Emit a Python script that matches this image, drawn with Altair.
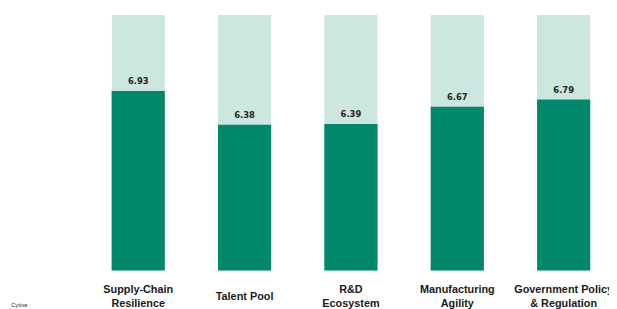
import altair as alt
import pandas as pd

categories = ["Supply-Chain\nResilience", "Talent Pool", "R&D\nEcosystem",
              "Manufacturing\nAgility", "Government Policy\n& Regulation"]
scores = [6.93, 6.38, 6.39, 6.67, 6.79]
max_scores = [10, 10, 10, 10, 10]
value_labels = ["6.93", "6.38", "6.39", "6.67", "6.79"]
axis_min = 4
source_text = "Cytiva"

df = pd.DataFrame({"cat": categories, "score": scores, "max": max_scores,
                   "label": value_labels})

x = alt.X("cat:N", sort=categories, title=None,
          scale=alt.Scale(paddingInner=0.5, paddingOuter=0), axis=None)
yscale = alt.Scale(domain=[axis_min, 8.17], zero=False, nice=False)

base = alt.Chart(df)
bg = base.mark_bar(color="#CCE6E0", clip=True).encode(
    x=x, y=alt.Y("max:Q", scale=yscale, axis=None), y2=alt.datum(axis_min))
fg = base.mark_bar(color="#00876C").encode(
    x=x, y=alt.Y("score:Q", scale=yscale, axis=None), y2=alt.datum(axis_min))
txt = base.mark_text(dy=-10, font="DejaVu Sans", fontWeight="bold",
                     fontSize=8.5, color="#222222").encode(
    x=x, y=alt.Y("score:Q", scale=yscale, axis=None), text="label:N")

lab_style = dict(font="Liberation Sans", fontWeight="bold", fontSize=11,
                 color="#1a1a1a", baseline="middle", lineBreak="\n",
                 lineHeight=14, align="center")
lab2 = base.transform_filter("indexof(datum.cat, '\\n') >= 0").mark_text(
    **lab_style).encode(x=x, y=alt.value(279), text="cat:N")
lab1 = base.transform_filter("indexof(datum.cat, '\\n') < 0").mark_text(
    **lab_style).encode(x=x, y=alt.value(286), text="cat:N")

src = alt.Chart(pd.DataFrame({"t": [source_text]})).mark_text(
    align="left", baseline="middle", font="Liberation Sans", fontSize=6,
    color="#333333").encode(x=alt.value(-102), y=alt.value(294), text="t:N")

chart = alt.layer(bg, fg, txt, lab2, lab1, src).properties(
    width=485, height=259,
    autosize=alt.AutoSizeParams(type="none"),
    padding={"left": 105, "top": 5, "right": 19, "bottom": 37},
).configure_view(stroke=None)

chart.save("out.html", embed_options={"renderer": "svg", "actions": False})
